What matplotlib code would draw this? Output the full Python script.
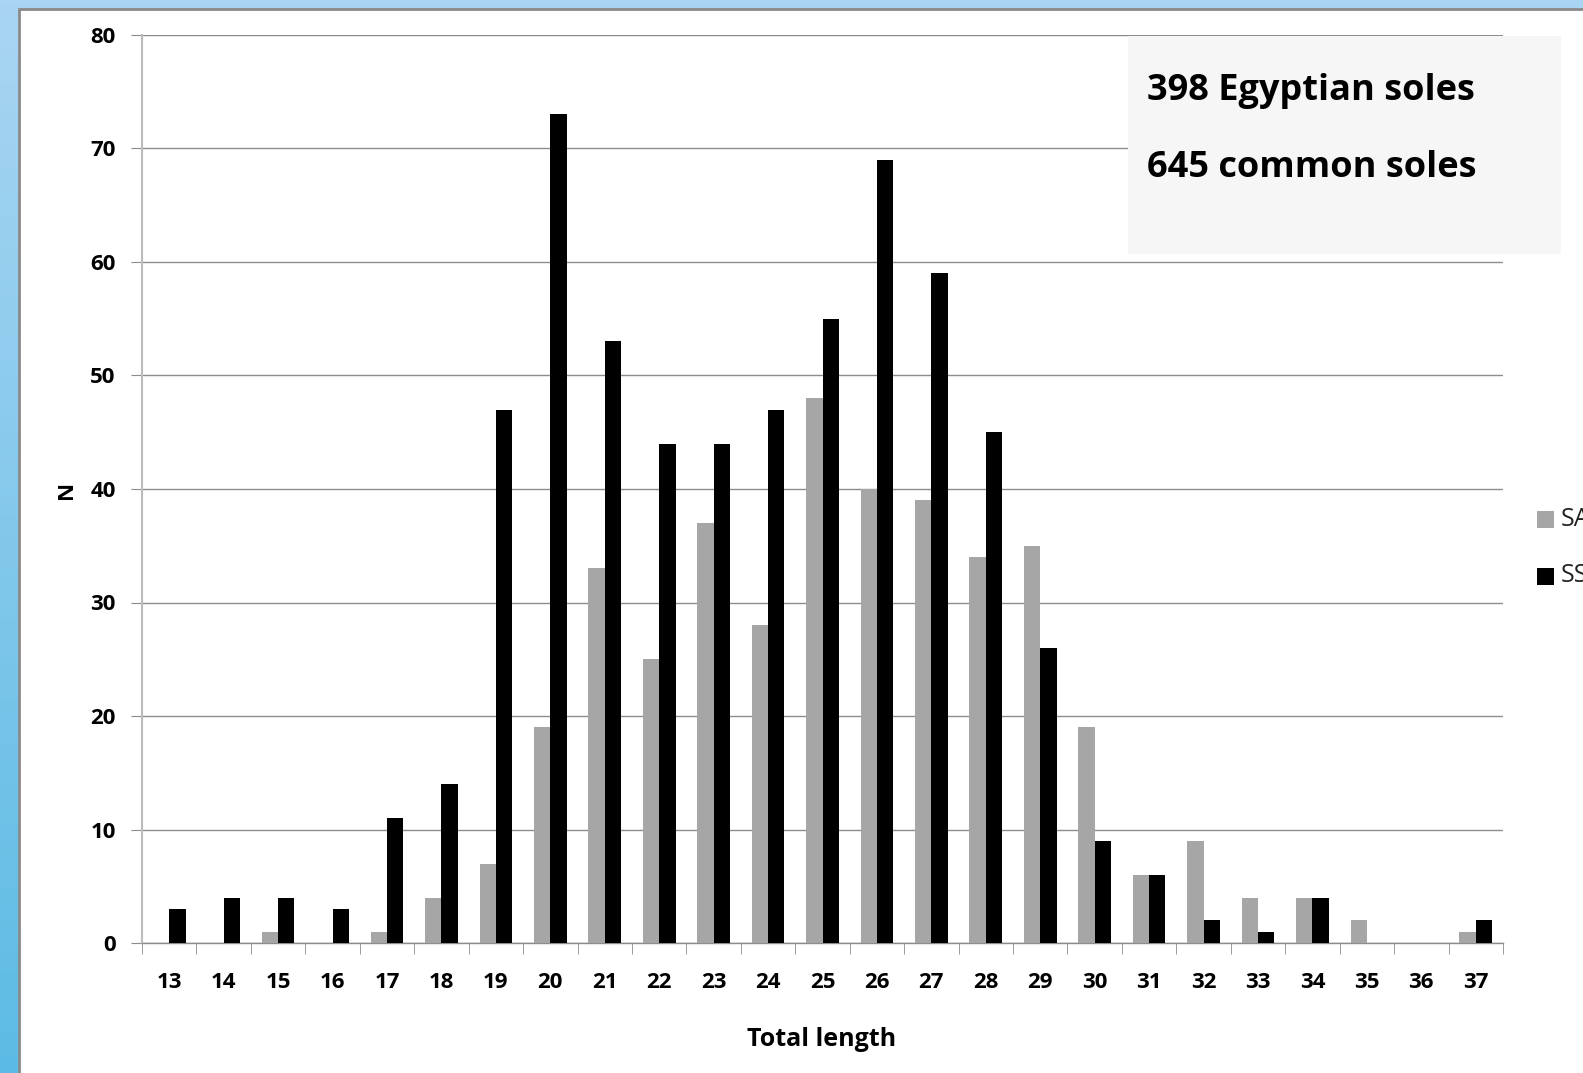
import numpy as np
import matplotlib
matplotlib.use("Agg")
from matplotlib import pyplot as plt
from matplotlib.patches import Rectangle
from matplotlib.colors import LinearSegmentedColormap

plt.rcParams['font.family'] = ['Open Sans', 'DejaVu Sans']

# data
lengths = list(range(13, 38))
sa = [0, 0, 1, 0, 1, 4, 7, 19, 33, 25, 37, 28, 48, 40, 39, 34, 35, 19, 6, 9, 4, 4, 2, 0, 1]
ss = [3, 4, 4, 3, 11, 14, 47, 73, 53, 44, 44, 47, 55, 69, 59, 45, 26, 9, 6, 2, 1, 4, 0, 0, 2]
series_names = ['SA', 'SS']
box_lines = ['398 Egyptian soles', '645 common soles']

W, H = 1583, 1073
fig = plt.figure(figsize=(W/100, H/100), dpi=100)

# blue slide background with a gradient
bg = fig.add_axes([0, 0, 1, 1], zorder=-10)
grad = np.linspace(0, 1, 256).reshape(-1, 1)
bcmap = LinearSegmentedColormap.from_list('b', ['#a9d5f2', '#5cbbe4'])
bg.imshow(grad, cmap=bcmap, aspect='auto', extent=[0, 1, 0, 1], origin='upper')
bg.set_xlim(0, 1)
bg.set_ylim(0, 1)
bg.axis('off')
# white panel
bg.add_patch(Rectangle((19/W, -0.01), 1, 1 - 9/H + 0.01, facecolor='white',
                       edgecolor='#8a8a8a', lw=2, transform=bg.transAxes))

x0, x1 = 142, 1503
y0, y1 = 943, 35
ax = fig.add_axes([x0/W, 1 - y0/H, (x1-x0)/W, (y0-y1)/H])
ax.set_facecolor('none')

x = np.arange(len(lengths))
w = 0.3
ax.bar(x - w/2, sa, width=w, color='#a6a6a6', zorder=3, label=series_names[0])
ax.bar(x + w/2, ss, width=w, color='black', zorder=3, label=series_names[1])

ax.set_xlim(-0.5, len(lengths) - 0.5)
ax.set_ylim(0, 80)
ax.set_yticks(range(0, 81, 10))
ax.yaxis.grid(True, color='#8c8c8c', lw=1)
ax.set_axisbelow(True)
ax.set_xticks(x)
ax.set_xticklabels([str(v) for v in lengths])
ax.set_xticks(np.arange(-0.5, len(lengths), 1), minor=True)
ax.tick_params(axis='x', which='major', length=0, pad=21, labelsize=16)
ax.tick_params(axis='x', which='minor', length=8, color='#8c8c8c', direction='out')
ax.tick_params(axis='y', length=8, color='#8c8c8c', labelsize=16, pad=11)
for lab in ax.get_xticklabels() + ax.get_yticklabels():
    lab.set_fontweight('bold')
for s in ['top', 'right']:
    ax.spines[s].set_visible(False)
ax.spines['left'].set_color('#bcbcbc')
ax.spines['left'].set_linewidth(1.5)
ax.spines['bottom'].set_color('#8c8c8c')
ax.spines['bottom'].set_linewidth(1)

fig.text(822/W, 1 - 1039/H, 'Total length', ha='center', va='center',
         fontsize=18, fontweight='bold')
fig.text(66/W, 1 - 490/H, 'N', ha='center', va='center', rotation=90,
         fontsize=16, fontweight='bold')

# text box
fig.patches.append(Rectangle((1128/W, 1 - 254/H), (1561-1128)/W, (254-36)/H,
                             facecolor='#f6f6f6', edgecolor='none',
                             transform=fig.transFigure, zorder=5))
for i, t in enumerate(box_lines):
    fig.text(1147/W, 1 - (91 + 77*i)/H, t, ha='left', va='center',
             fontsize=26, fontweight='bold', zorder=6)

# legend, cut by the slide edge as in the original
leg_cols = ['#a6a6a6', 'black']
for i, (name, c) in enumerate(zip(series_names, leg_cols)):
    yy = 519 + 57*i
    fig.patches.append(Rectangle((1537/W, 1 - (yy+9)/H), 17/W, 17/H,
                                 facecolor=c, edgecolor='none',
                                 transform=fig.transFigure))
    fig.text(1561/W, 1 - yy/H, name, ha='left', va='center', fontsize=18,
             color='#222222')

fig.savefig('out.png', dpi=100)
